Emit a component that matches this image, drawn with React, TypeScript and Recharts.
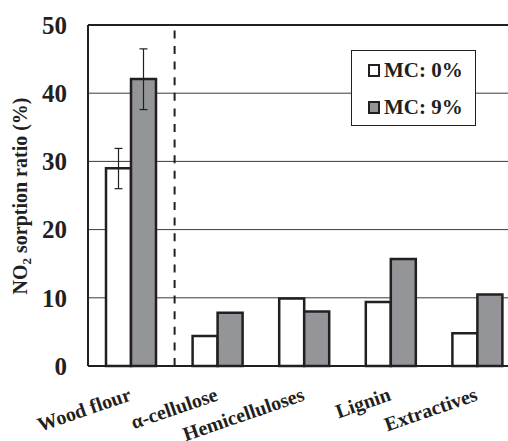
import { BarChart, Bar, XAxis, YAxis, CartesianGrid, ReferenceLine, ErrorBar } from "recharts";

const categories = ["Wood flour", "α-cellulose", "Hemicelluloses", "Lignin", "Extractives"];
const mc0 = [29.0, 4.4, 9.9, 9.4, 4.8];
const mc9 = [42.1, 7.8, 8.0, 15.7, 10.5];
// [minus, plus]
const mc0Err: ([number, number] | null)[] = [[3.0, 2.9], null, null, null, null];
const mc9Err: ([number, number] | null)[] = [[4.5, 4.4], null, null, null, null];
const yTicks = [0, 10, 20, 30, 40, 50];
const seriesNames = ["MC: 0%", "MC: 9%"];

const data = categories.map((name, i) => ({
  name,
  mc0: mc0[i],
  mc9: mc9[i],
  mc0Err: mc0Err[i],
  mc9Err: mc9Err[i],
}));

const FONT = "'Liberation Serif', 'Times New Roman', serif";
const INK = "#231f20";
const GRAY = "#939598";

function XTick(props: any) {
  const { x, y, payload } = props;
  const ax = x + 1;
  const ay = y + 26;
  return (
    <text
      x={ax}
      y={ay}
      textAnchor="end"
      transform={`rotate(-19 ${ax} ${ay})`}
      fontFamily={FONT}
      fontWeight="bold"
      fontSize={20}
      fill={INK}
    >
      {payload.value}
    </text>
  );
}

function YLabel() {
  const cx = 27;
  const cy = 196;
  return (
    <text
      x={cx}
      y={cy}
      textAnchor="middle"
      transform={`rotate(-90 ${cx} ${cy})`}
      fontFamily={FONT}
      fontWeight="bold"
      fontSize={20}
      fill={INK}
    >
      <tspan>NO</tspan>
      <tspan fontSize={13} dy={4}>2</tspan>
      <tspan dy={-4}> sorption ratio (%)</tspan>
    </text>
  );
}

function LegendBox() {
  const row = (fill: string, label: string) => (
    <div key={label} style={{ display: "flex", alignItems: "center", height: 37 }}>
      <span
        style={{
          display: "inline-block",
          width: 8,
          height: 9,
          border: `2px solid ${INK}`,
          background: fill,
          marginRight: 4,
        }}
      />
      <span style={{ fontFamily: FONT, fontWeight: "bold", fontSize: 21, color: INK, lineHeight: 1 }}>{label}</span>
    </div>
  );
  return (
    <div
      style={{
        position: "absolute",
        left: 351,
        top: 50,
        boxSizing: "border-box",
        width: 125,
        height: 76,
        border: `1.5px solid ${INK}`,
        background: "#fff",
        paddingLeft: 16,
        paddingTop: 1,
      }}
    >
      {row("#fff", seriesNames[0])}
      {row(GRAY, seriesNames[1])}
    </div>
  );
}

export default function App() {
  return (
    <div style={{ position: "fixed", left: 0, top: 0, width: 508, height: 441, overflow: "hidden", background: "#fff" }}>
      <BarChart
        width={521}
        height={441}
        data={data}
        margin={{ top: 25, right: 0, bottom: 0, left: 0 }}
        barGap={0}
      >
        <CartesianGrid vertical={false} stroke="#3a3a3a" strokeWidth={1} />
        <XAxis
          dataKey="name"
          height={75}
          axisLine={{ stroke: INK, strokeWidth: 2 }}
          tickLine={false}
          tick={<XTick />}
          interval={0}
        />
        <YAxis
          width={88}
          domain={[0, 50]}
          ticks={yTicks}
          axisLine={{ stroke: INK, strokeWidth: 2 }}
          tickLine={false}
          tickSize={0}
          tickMargin={21}
          tick={{ fontFamily: FONT, fontWeight: "bold", fontSize: 25, fill: INK }}
          label={<YLabel />}
        />
        <ReferenceLine y={50} stroke={INK} strokeWidth={2} />
        <ReferenceLine x="Wood flour" position="end" stroke={INK} strokeWidth={2} strokeDasharray="8 7.6" />
        <Bar dataKey="mc0" name={seriesNames[0]} fill="#fff" stroke={INK} strokeWidth={2.5} barSize={25} isAnimationActive={false}>
          <ErrorBar dataKey="mc0Err" width={4} stroke={INK} strokeWidth={1.2} direction="y" />
        </Bar>
        <Bar dataKey="mc9" name={seriesNames[1]} fill={GRAY} stroke={INK} strokeWidth={2.5} barSize={25} isAnimationActive={false}>
          <ErrorBar dataKey="mc9Err" width={4} stroke={INK} strokeWidth={1.2} direction="y" />
        </Bar>
      </BarChart>
      <LegendBox />
    </div>
  );
}
